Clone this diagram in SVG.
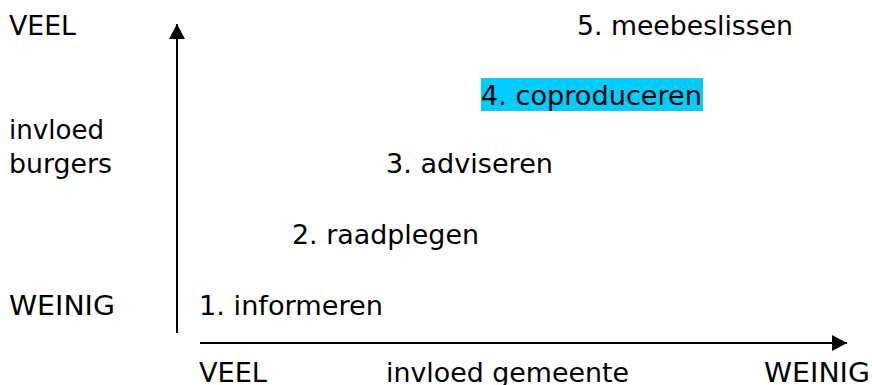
<svg xmlns="http://www.w3.org/2000/svg" width="872" height="385" viewBox="0 0 872 385">
<style>
text{font-family:"DejaVu Sans",Verdana,sans-serif;font-size:26px;fill:#000}
.ax{stroke:#000;stroke-width:2;fill:none}
</style>
<defs>
<marker id="ah" markerWidth="16" markerHeight="16" viewBox="0 0 16 16" refX="15" refY="8" orient="auto" markerUnits="userSpaceOnUse">
<path d="M0,0 L15,8 L0,16 z" fill="#000"/>
</marker>
</defs>
<rect width="872" height="385" fill="#fff"/>
<g id="connectors">
<line class="ax" x1="177" y1="333" x2="177" y2="24" marker-end="url(#ah)"/>
<line class="ax" x1="200" y1="343" x2="847" y2="343" marker-end="url(#ah)"/>
</g>
<g id="y-labels">
<text x="9" y="35" textLength="67" lengthAdjust="spacingAndGlyphs">VEEL</text>
<text x="9" y="139" textLength="95" lengthAdjust="spacingAndGlyphs">invloed</text>
<text x="9" y="173" textLength="103" lengthAdjust="spacingAndGlyphs">burgers</text>
<text x="9" y="315" textLength="106" lengthAdjust="spacingAndGlyphs">WEINIG</text>
</g>
<g id="x-labels">
<text x="199" y="382" textLength="68" lengthAdjust="spacingAndGlyphs">VEEL</text>
<text x="386" y="382" textLength="243" lengthAdjust="spacingAndGlyphs">invloed gemeente</text>
<text x="764" y="382" textLength="106" lengthAdjust="spacingAndGlyphs">WEINIG</text>
</g>
<g id="step1"><text x="199" y="315" textLength="184" lengthAdjust="spacingAndGlyphs">1. informeren</text></g>
<g id="step2"><text x="292" y="244" textLength="187" lengthAdjust="spacingAndGlyphs">2. raadplegen</text></g>
<g id="step3"><text x="386" y="173" textLength="167" lengthAdjust="spacingAndGlyphs">3. adviseren</text></g>
<g id="step4"><rect x="481" y="78" width="222" height="33" fill="#00CCFF"/><text x="481" y="105" textLength="221" lengthAdjust="spacingAndGlyphs">4. coproduceren</text></g>
<g id="step5"><text x="577" y="35" textLength="216" lengthAdjust="spacingAndGlyphs">5. meebeslissen</text></g>
</svg>
